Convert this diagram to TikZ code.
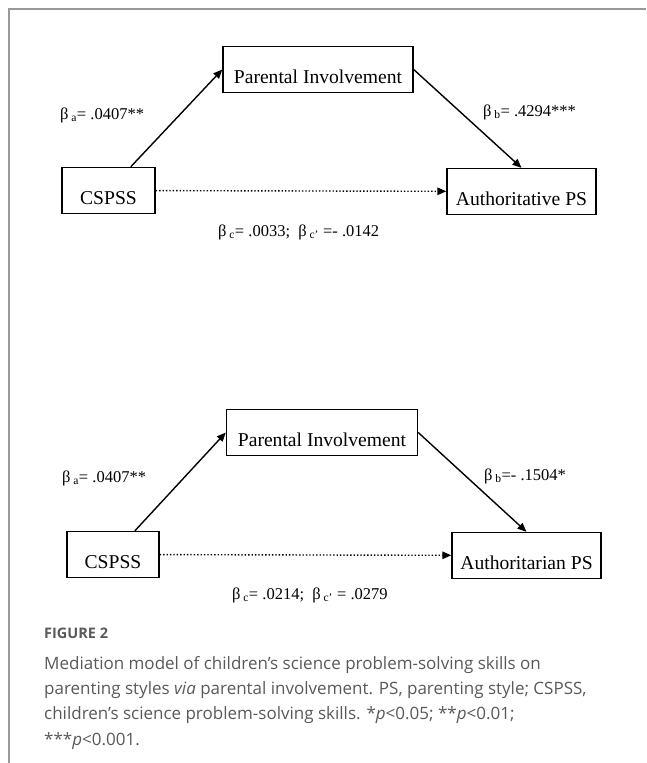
\documentclass[tikz,border=0pt]{standalone}
\usepackage{fontspec}
\setmainfont{Liberation Serif}
\newfontfamily\capfont{Open Sans}
\usetikzlibrary{arrows.meta}
\definecolor{capgray}{gray}{0.35}
\definecolor{framegray}{gray}{0.6}

\begin{document}
\begin{tikzpicture}
	[x=1pt, y=-1pt, >={Triangle[length=9pt,width=7.5pt]},
	box/.style={draw, line width=1.4pt, inner xsep=0pt, inner ysep=2.5pt, text height=34.5pt, text depth=6.5pt, font=\fontsize{19.6}{19.6}\selectfont},
	coef/.style={anchor=west, inner sep=0pt, font=\fontsize{16.5}{16.5}\selectfont},
	link/.style={->, line width=1.4pt},
	direct/.style={->, line width=1.4pt, dotted}]
	\useasboundingbox (0,0) rectangle (646,763);
	\coordinate (f0) at (9,763);
	\coordinate (f1) at (9,9);
	\coordinate (f2) at (646,9);
	\draw[framegray, line width=1.2pt] (f0) -- (f1) -- (f2);
	\node[box, minimum width=190pt] (pi1) at (318,69.5) {Parental Involvement};
	\node[box, minimum width=93pt] (cs1) at (108.5,190.5) {CSPSS};
	\node[box, minimum width=149pt] (ps1) at (521.5,191.5) {Authoritative PS};
	\node[coef] (ba1) at (60,115) {β\,\textsubscript{a}= .0407**};
	\node[coef] (bb1) at (483,112) {β\,\textsubscript{b}= .4294***};
	\node[coef] (bc1) at (218,232) {β\,\textsubscript{c}= .0033;\ \ β\,\textsubscript{c'} =- .0142};
	\draw[link] (cs1) -- (pi1.west);
	\draw[link] (pi1.east) -- (ps1.north);
	\draw[direct] (cs1) -- (ps1);
	\node[box, minimum width=191pt] (pi2) at (322,432.5) {Parental Involvement};
	\node[box, minimum width=92pt] (cs2) at (113,554.5) {CSPSS};
	\node[box, minimum width=149pt] (ps2) at (526.5,555.5) {Authoritarian PS};
	\node[coef] (ba2) at (62,478) {β\,\textsubscript{a}= .0407**};
	\node[coef] (bb2) at (484,476) {β\,\textsubscript{b}=- .1504*};
	\node[coef] (bc2) at (232,595) {β\,\textsubscript{c}= .0214;\ \ β\,\textsubscript{c'} = .0279};
	\draw[link] (cs2) -- (pi2.west);
	\draw[link] (pi2.east) -- (ps2.north);
	\draw[direct] (cs2) -- (ps2);
	\node[anchor=west, inner sep=0pt, capgray, font=\capfont\bfseries\fontsize{14.5}{14.5}\selectfont] (fig) at (44,633) {FIGURE 2};
	\node[anchor=north west, inner sep=0pt, align=left, capgray, font=\capfont\fontsize{17}{25.3}\selectfont] (cap) at (44,656)
		{Mediation model of children’s science problem-solving skills on\\
		parenting styles \textit{via} parental involvement. PS, parenting style; CSPSS,\\
		children’s science problem-solving skills. *\textit{p}<0.05; **\textit{p}<0.01;\\
		***\textit{p}<0.001.};
\end{tikzpicture}
\end{document}
